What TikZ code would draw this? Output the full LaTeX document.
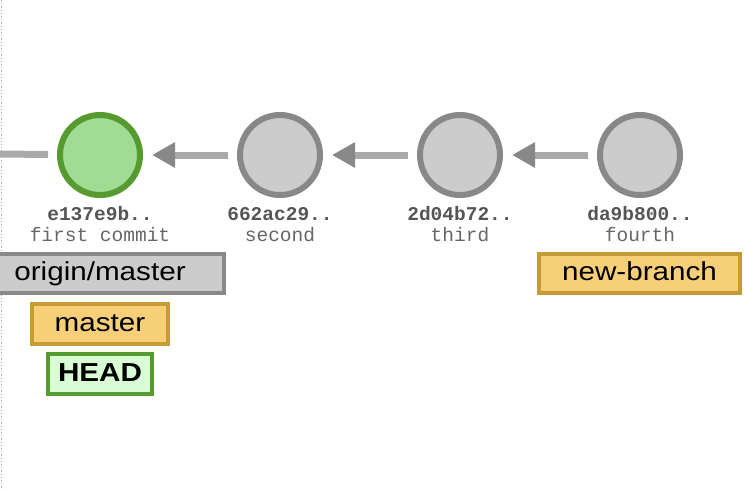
\documentclass[tikz,border=0pt]{standalone}
\usepackage{fontspec}
\usetikzlibrary{arrows.meta}
\newfontfamily\monofnt{Liberation Mono}
\newfontfamily\sansfnt[FakeStretch=1.14]{Liberation Sans}
\definecolor{cgfill}{HTML}{CCCCCC}
\definecolor{cgline}{HTML}{888888}
\definecolor{cgreenfill}{HTML}{A0DC94}
\definecolor{cgreenline}{HTML}{559B2F}
\definecolor{corfill}{HTML}{F7CF78}
\definecolor{corline}{HTML}{C69A34}
\definecolor{cheadfill}{HTML}{D8FCD3}
\definecolor{connline}{HTML}{AAAAAA}
\definecolor{hashcol}{HTML}{555555}
\definecolor{desccol}{HTML}{666666}
\tikzset{
  commit/.style={circle, minimum size=80pt, inner sep=0pt, line width=6pt, draw=cgline, fill=cgfill},
  current/.style={commit, draw=cgreenline, fill=cgreenfill},
  conn/.style={draw=connline, line width=7pt, shorten <=9pt, shorten >=9pt,
    -{Triangle[length=23pt,width=24pt,color=cgline,fill=cgline]}},
  stub/.style={draw=connline, line width=7pt, shorten <=9pt},
  hash/.style={anchor=base, inner sep=0pt, text=hashcol, font=\monofnt\bfseries\fontsize{19.5}{22}\selectfont},
  desc/.style={anchor=base, inner sep=0pt, text=desccol, font=\monofnt\fontsize{19.5}{22}\selectfont},
  ref/.style={rectangle, line width=4pt, inner sep=0pt, text height=19pt, text depth=5pt,
    font=\sansfnt\fontsize{26}{30}\selectfont},
  grayref/.style={ref, draw=cgline, fill=cgfill},
  branchref/.style={ref, draw=corline, fill=corfill},
  headref/.style={ref, draw=cgreenline, fill=cheadfill, font=\sansfnt\bfseries\fontsize{26}{30}\selectfont},
}
\begin{document}
\begin{tikzpicture}[x=1pt,y=-1pt]
\useasboundingbox (0,0) rectangle (748,490);
\draw[connline, dotted, line width=1.2pt] (1.5,0) -- (1.5,490);
\coordinate (left) at (0,154);
\node[current] (c1) at (100,155) {};
\node[commit] (c2) at (280,155) {};
\node[commit] (c3) at (460,155) {};
\node[commit] (c4) at (640,155) {};
\draw[stub] (c1) -- (left);
\draw[conn] (c2) -- (c1);
\draw[conn] (c3) -- (c2);
\draw[conn] (c4) -- (c3);
\node[hash] (h1) at (100,220) {e137e9b..};
\node[desc] (d1) at (100,241.5) {first commit};
\node[hash] (h2) at (280,220) {662ac29..};
\node[desc] (d2) at (280,241.5) {second};
\node[hash] (h3) at (460,220) {2d04b72..};
\node[desc] (d3) at (460,241.5) {third};
\node[hash] (h4) at (640,220) {da9b800..};
\node[desc] (d4) at (640,241.5) {fourth};
\node[grayref, minimum width=248pt, minimum height=39pt] (om) at (100,273.5) {origin/master};
\node[branchref, minimum width=136pt, minimum height=40pt] (ma) at (100,324) {master};
\node[headref, minimum width=104pt, minimum height=40pt] (hd) at (100,374) {HEAD};
\node[branchref, minimum width=201pt, minimum height=39pt] (nb) at (639.5,273.5) {new-branch};
\end{tikzpicture}
\end{document}
